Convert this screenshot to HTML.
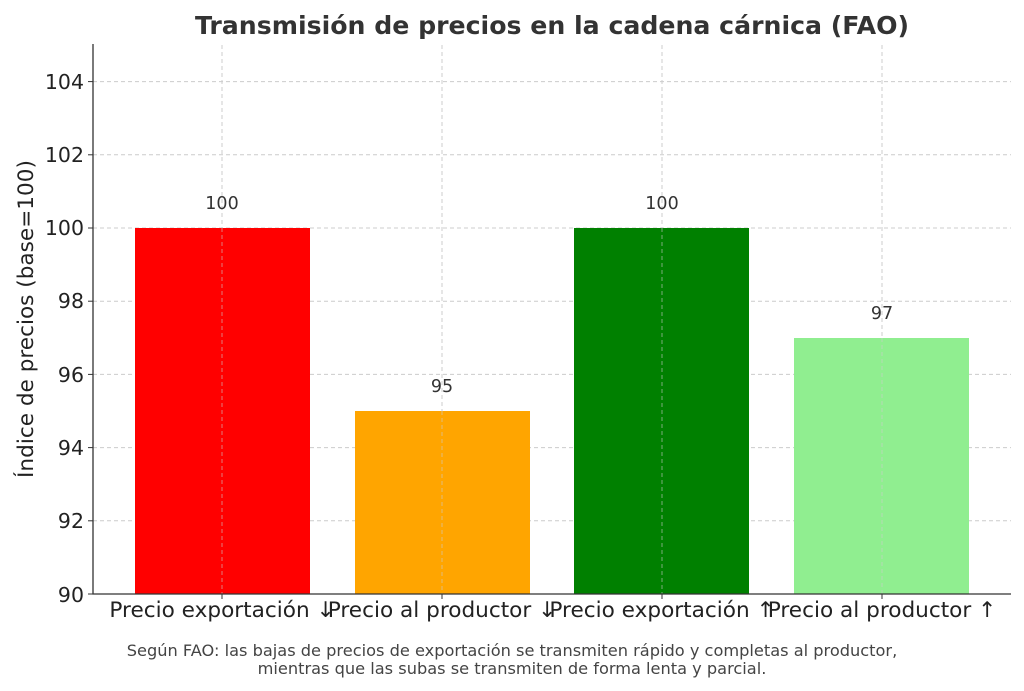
<!DOCTYPE html>
<html><head><meta charset="utf-8"><style>body{margin:0;background:#fff}svg{display:block}</style></head><body>
<svg width="1024" height="691" xmlns="http://www.w3.org/2000/svg" font-family="DejaVu Sans, Liberation Sans, sans-serif">
<rect width="1024" height="691" fill="#fff"/>
<text x="552" y="34" text-anchor="middle" font-size="25.2" font-weight="bold" fill="#333">Transmisión de precios en la cadena cárnica (FAO)</text>
<g stroke="#ccc" stroke-dasharray="4,3" stroke-width="1">
<line x1="93" x2="1011" y1="81.6" y2="81.6"/><line x1="93" x2="1011" y1="154.8" y2="154.8"/><line x1="93" x2="1011" y1="228" y2="228"/><line x1="93" x2="1011" y1="301.2" y2="301.2"/><line x1="93" x2="1011" y1="374.4" y2="374.4"/><line x1="93" x2="1011" y1="447.6" y2="447.6"/><line x1="93" x2="1011" y1="520.8" y2="520.8"/>
<line x1="222" x2="222" y1="45" y2="594"/><line x1="442" x2="442" y1="45" y2="594"/><line x1="662" x2="662" y1="45" y2="594"/><line x1="882" x2="882" y1="45" y2="594"/>
</g>
<rect x="135" y="228" width="175" height="366" fill="#ff0000"/>
<rect x="355" y="411" width="175" height="183" fill="#ffa500"/>
<rect x="574" y="228" width="175" height="366" fill="#008000"/>
<rect x="794" y="338" width="175" height="256" fill="#90ee90"/>
<g stroke="#ccc" stroke-dasharray="4,3" stroke-width="1" opacity="0.6">
<line x1="222" x2="222" y1="228" y2="594"/><line x1="442" x2="442" y1="411" y2="594"/><line x1="662" x2="662" y1="228" y2="594"/><line x1="882" x2="882" y1="338" y2="594"/>
</g>
<g font-size="17.5" fill="#333" text-anchor="middle">
<text x="222" y="209">100</text><text x="442" y="392">95</text><text x="662" y="209">100</text><text x="882" y="319">97</text>
</g>
<path d="M93 44 V594 H1011" fill="none" stroke="#333" stroke-width="1.3"/>
<g stroke="#333"><line x1="88" x2="93" y1="594" y2="594"/><line x1="88" x2="93" y1="520.8" y2="520.8"/><line x1="88" x2="93" y1="447.6" y2="447.6"/><line x1="88" x2="93" y1="374.4" y2="374.4"/><line x1="88" x2="93" y1="301.2" y2="301.2"/><line x1="88" x2="93" y1="228" y2="228"/><line x1="88" x2="93" y1="154.8" y2="154.8"/><line x1="88" x2="93" y1="81.6" y2="81.6"/>
<line x1="222" x2="222" y1="594" y2="599"/><line x1="442" x2="442" y1="594" y2="599"/><line x1="662" x2="662" y1="594" y2="599"/><line x1="882" x2="882" y1="594" y2="599"/></g>
<g font-size="20.5" fill="#222" text-anchor="end">
<text x="84" y="602">90</text><text x="84" y="528">92</text><text x="84" y="455">94</text><text x="84" y="382">96</text><text x="84" y="308">98</text><text x="84" y="235">100</text><text x="84" y="162">102</text><text x="84" y="89">104</text>
</g>
<g font-size="21.6" fill="#222" text-anchor="middle">
<text x="222" y="617">Precio exportación ↓</text><text x="442" y="617">Precio al productor ↓</text><text x="662" y="617">Precio exportación ↑</text><text x="882" y="617">Precio al productor ↑</text>
</g>
<text transform="translate(33,319) rotate(-90)" font-size="21.6" fill="#222" text-anchor="middle">Índice de precios (base=100)</text>
<g font-size="16.2" fill="#444" text-anchor="middle">
<text x="512" y="656">Según FAO: las bajas de precios de exportación se transmiten rápido y completas al productor,</text>
<text x="512" y="674">mientras que las subas se transmiten de forma lenta y parcial.</text>
</g>
</svg>
</body></html>
